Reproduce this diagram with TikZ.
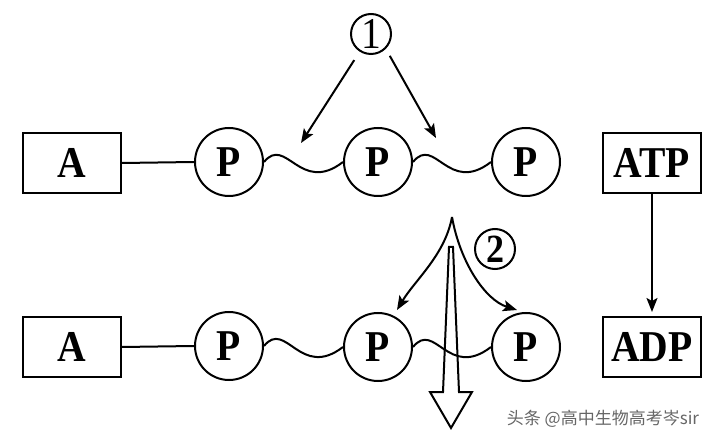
\documentclass[tikz,border=0pt]{standalone}
\usepackage{fontspec}
\setmainfont{Liberation Serif}
\newfontfamily\lblfont{Liberation Serif}[FakeStretch=0.9]
\newfontfamily\cjkfont{Noto Sans CJK SC}
\usetikzlibrary{arrows.meta}
\tikzset{
  box/.style={draw,line width=2pt,minimum width=98pt,minimum height=60pt,inner sep=0pt,
    font=\lblfont\bfseries\fontsize{44}{44}\selectfont},
  ball/.style={draw,circle,line width=2pt,minimum size=68pt,inner sep=0pt,
    font=\lblfont\bfseries\fontsize{44}{44}\selectfont},
  num/.style={draw,circle,line width=2pt,minimum size=40pt,inner sep=0pt},
  wavy/.style={to path={.. controls +(22,-27) and +(-43,33) .. (\tikztotarget)}},
  tip/.style={-{Stealth[length=14pt,width=11pt,inset=3pt]}}
}
\begin{document}
\begin{tikzpicture}[x=1pt,y=-1pt,line width=2pt]
  \useasboundingbox (0,0) rectangle (720,443);
  % upper row
  \node[box] (a1) at (72,163) {A};
  \node[ball] (p11) at (229,162) {P};
  \node[ball] (p12) at (378,162) {P};
  \node[ball] (p13) at (526,162) {P};
  \node[box] (atp) at (652,163) {ATP};
  \draw (a1.east) -- (p11.west);
  \draw (p11.east) to[wavy] (p12.west);
  \draw (p12.east) to[wavy] (p13.west);
  % lower row
  \node[box] (a2) at (72,347) {A};
  \node[ball] (p21) at (229,346) {P};
  \node[ball] (p22) at (378,347) {P};
  \node[ball] (p23) at (526,347) {P};
  \node[box] (adp) at (652,347) {ADP};
  \draw (a2.east) -- (p21.west);
  \draw (p21.east) to[wavy] (p22.west);
  \draw (p22.east) to[wavy] (p23.west);
  \draw[tip,shorten >=4pt] (atp) -- (adp);
  % label 1
  \node[num,font=\lblfont\fontsize{44}{44}\selectfont] (c1) at (371,34) {1};
  \coordinate (k1) at (301,143); \coordinate (k2) at (436,138);
  \draw[tip,shorten <=10pt] (c1) -- (k1);
  \draw[tip,shorten <=8pt] (c1.south east) -- (k2);
  % label 2
  \node[num,font=\lblfont\bfseries\fontsize{40}{40}\selectfont] (c2) at (495,249) {2};
  \coordinate (top) at (452,217);
  \coordinate (k3) at (397,310); \coordinate (k4) at (517,310);
  \draw[tip] (top) .. controls (445,255) and (415,280) .. (k3);
  \draw[tip] (top) .. controls (460,262) and (485,300) .. (k4);
  \draw[line join=miter] (449,247) -- (453,247) -- (459,392) -- (472,392) -- (451,428)
    -- (430,392) -- (443,392) -- cycle;
  \node[text=black!60,font=\cjkfont\fontsize{17}{17}\selectfont] (wm) at (603,419) {头条 @高中生物高考岑sir};
\end{tikzpicture}
\end{document}
